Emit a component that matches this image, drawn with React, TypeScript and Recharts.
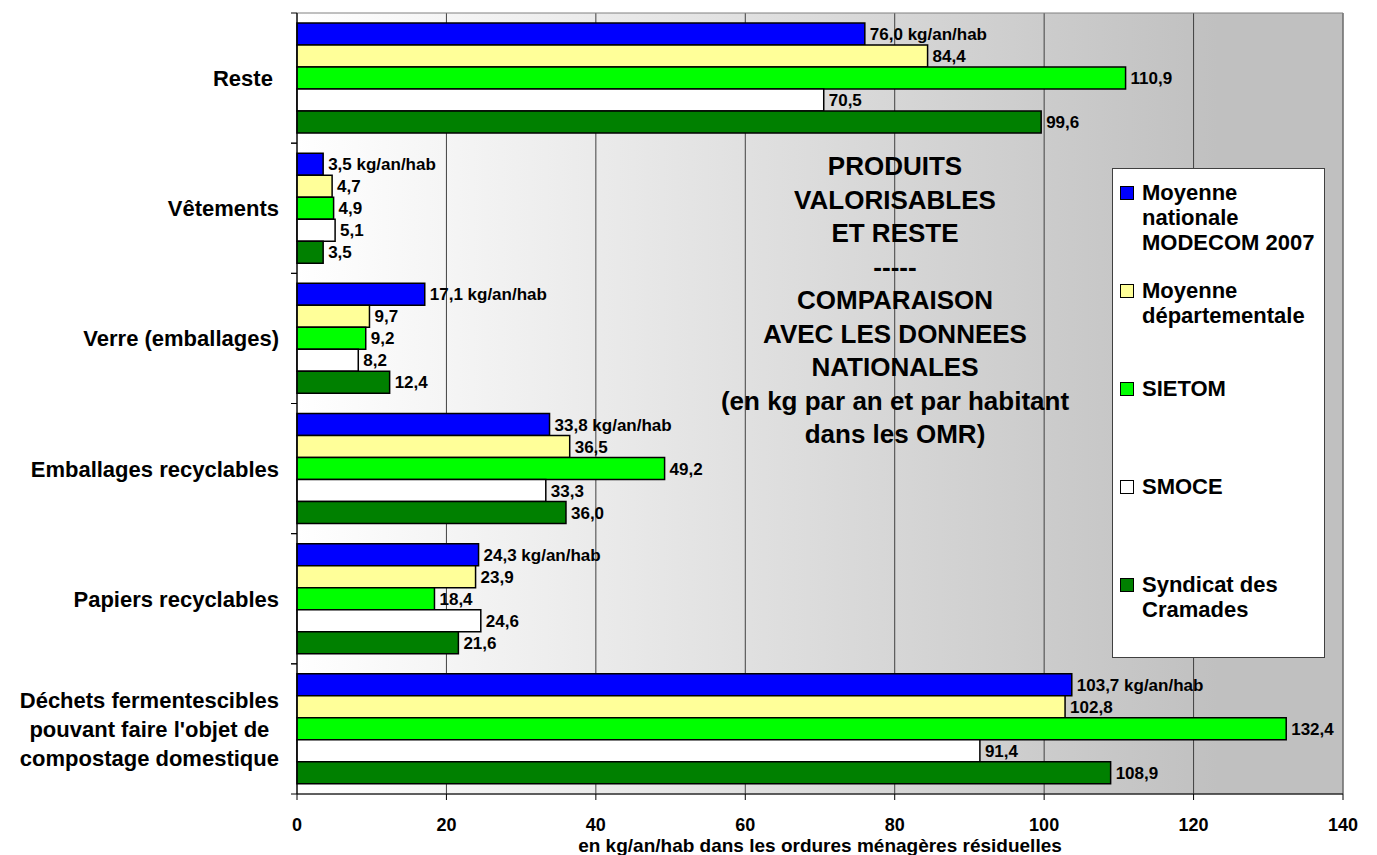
import React from 'react';
import {
  BarChart,
  Bar,
  XAxis,
  YAxis,
  CartesianGrid,
  LabelList,
  Legend,
  Label,
  ReferenceArea,
} from 'recharts';

// ---------- data ----------
const categories = [
  'Reste ',
  'Vêtements',
  'Verre (emballages)',
  'Emballages recyclables',
  'Papiers recyclables',
  "Déchets fermentescibles\npouvant faire l'objet de\ncompostage domestique",
];
const nationalValues = [76.0, 3.5, 17.1, 33.8, 24.3, 103.7];
const deptValues = [84.4, 4.7, 9.7, 36.5, 23.9, 102.8];
const sietomValues = [110.9, 4.9, 9.2, 49.2, 18.4, 132.4];
const smoceValues = [70.5, 5.1, 8.2, 33.3, 24.6, 91.4];
const cramadesValues = [99.6, 3.5, 12.4, 36.0, 21.6, 108.9];

const seriesKeys = ['national', 'dept', 'sietom', 'smoce', 'cramades'];
const seriesNames = [
  'Moyenne\nnationale\nMODECOM 2007',
  'Moyenne\ndépartementale',
  'SIETOM',
  'SMOCE',
  'Syndicat des\nCramades',
];
const seriesColors = ['#0000FF', '#FFFF99', '#00FF00', '#FFFFFF', '#008000'];
const seriesValues = [nationalValues, deptValues, sietomValues, smoceValues, cramadesValues];

const xTicks = [0, 20, 40, 60, 80, 100, 120, 140];
const xAxisTitle = 'en kg/an/hab dans les ordures ménagères résiduelles';
const titleLines = [
  'PRODUITS',
  'VALORISABLES',
  'ET RESTE',
  '-----',
  'COMPARAISON',
  'AVEC LES DONNEES',
  'NATIONALES',
  '(en kg par an et par habitant',
  'dans les OMR)',
];
const firstSeriesUnit = ' kg/an/hab';

const tableData = categories.map((name, i) => {
  const row: Record<string, any> = { name };
  seriesKeys.forEach((k, s) => {
    row[k] = seriesValues[s][i];
  });
  return row;
});

// ---------- styling ----------
const FONT = '"Liberation Sans", Arial, Helvetica, sans-serif';
const Y_TICK_SIZE = 6;
const Y_TICK_MARGIN = 12;
const CAT_FONT_SIZE = 22;

let measureCtx: CanvasRenderingContext2D | null = null;
function measureText(text: string, font: string): number {
  if (!measureCtx) {
    const c = document.createElement('canvas');
    measureCtx = c.getContext('2d');
  }
  if (!measureCtx) return text.length * 12;
  measureCtx.font = font;
  return measureCtx.measureText(text).width;
}

function CategoryTick(props: any) {
  const { x, y, payload } = props;
  const half = payload && typeof payload.offset === 'number' && payload.offset > 0 ? payload.offset : 65;
  const axisX = x + Y_TICK_SIZE + Y_TICK_MARGIN;
  const lines = String(payload.value).split('\n');
  const lh = 29;
  const font = `bold ${CAT_FONT_SIZE}px "Liberation Sans"`;
  let anchor: 'end' | 'middle' = 'end';
  let tx = x;
  if (lines.length > 1) {
    const w = Math.max(...lines.map((l) => measureText(l, font)));
    anchor = 'middle';
    tx = x - w / 2;
  }
  return (
    <g>
      <line x1={axisX - Y_TICK_SIZE} x2={axisX} y1={y - half} y2={y - half} stroke="#000" strokeWidth={1} />
      <line x1={axisX - Y_TICK_SIZE} x2={axisX} y1={y + half} y2={y + half} stroke="#000" strokeWidth={1} />
      <text
        x={tx}
        y={y}
        textAnchor={anchor}
        fontFamily={FONT}
        fontWeight="bold"
        fontSize={CAT_FONT_SIZE}
        fill="#000"
        xmlSpace="preserve"
        style={{ whiteSpace: 'pre' }}
      >
        {lines.map((l, i) => (
          <tspan key={i} x={tx} y={y + (i - (lines.length - 1) / 2) * lh} dy="0.36em">
            {l}
          </tspan>
        ))}
      </text>
    </g>
  );
}

function LegendContent(props: any) {
  const raw = (props.payload || []) as any[];
  const payload = [...raw].sort(
    (a, b) => seriesKeys.indexOf(String(a.dataKey)) - seriesKeys.indexOf(String(b.dataKey))
  );
  return (
    <div
      style={{
        width: 213,
        height: 490,
        boxSizing: 'border-box',
        border: '1px solid #404040',
        background: '#FFFFFF',
        fontFamily: FONT,
        fontWeight: 'bold',
        fontSize: 22,
        color: '#000',
      }}
    >
      {payload.map((entry: any, i: number) => (
        <div
          key={i}
          style={{
            height: 98,
            boxSizing: 'border-box',
            paddingTop: 11,
            paddingLeft: 7,
            display: 'flex',
            alignItems: 'flex-start',
          }}
        >
          <div
            style={{
              width: 14,
              height: 14,
              boxSizing: 'border-box',
              border: '1px solid #000',
              background: entry.color,
              marginTop: 6,
              marginRight: 8,
              flex: '0 0 auto',
            }}
          />
          <div style={{ whiteSpace: 'pre-line', lineHeight: '25px' }}>{entry.value}</div>
        </div>
      ))}
    </div>
  );
}

const fmt = (v: number) => v.toFixed(1).replace('.', ',');

export default function App() {
  return (
    <div style={{ position: 'absolute', left: 0, top: 0, width: 1377, height: 855, background: '#fff' }}>
      <BarChart
        width={1377}
        height={855}
        data={tableData}
        layout="vertical"
        margin={{ top: 13, right: 34, bottom: 0, left: 0 }}
        barCategoryGap={10}
        barGap={0}
      >
        <defs>
          <linearGradient id="plotBg" x1="0" y1="0" x2="1" y2="0">
            <stop offset="0%" stopColor="#FFFFFF" />
            <stop offset="88%" stopColor="#C0C0C0" />
            <stop offset="100%" stopColor="#C0C0C0" />
          </linearGradient>
        </defs>
        <CartesianGrid horizontal={false} stroke="#404040" strokeWidth={1} fill="url(#plotBg)" fillOpacity={1} />
        <ReferenceArea x1={0} x2={140} fill="none" stroke="#808080" strokeWidth={1} ifOverflow="visible" />
        <XAxis
          type="number"
          domain={[0, 140]}
          ticks={xTicks}
          height={61}
          tickSize={6}
          tickMargin={18}
          axisLine={{ stroke: '#000', strokeWidth: 1 }}
          tickLine={{ stroke: '#000', strokeWidth: 1 }}
          tick={{ fontFamily: FONT, fontWeight: 'bold', fontSize: 18, fill: '#000' }}
          interval={0}
        >
          <Label
            value={xAxisTitle}
            position="insideBottom"
            offset={3}
            style={{ fontFamily: FONT, fontWeight: 'bold', fontSize: 19, fill: '#000' }}
          />
        </XAxis>
        <YAxis
          type="category"
          dataKey="name"
          width={297}
          tickSize={Y_TICK_SIZE}
          tickMargin={Y_TICK_MARGIN}
          axisLine={{ stroke: '#000', strokeWidth: 1 }}
          tickLine={false}
          tick={<CategoryTick />}
          interval={0}
        />
        <Legend
          layout="vertical"
          align="center"
          verticalAlign="middle"
          content={<LegendContent />}
          wrapperStyle={{ left: 1112, top: 168, width: 213, height: 490 }}
        />
        {seriesKeys.map((k, s) => (
          <Bar
            key={k}
            dataKey={k}
            name={seriesNames[s]}
            fill={seriesColors[s]}
            stroke="#000"
            strokeWidth={1.5}
            isAnimationActive={false}
          >
            <LabelList
              dataKey={k}
              position="right"
              offset={5}
              formatter={(v: any) => fmt(Number(v)) + (s === 0 ? firstSeriesUnit : '')}
              style={{ fontFamily: FONT, fontWeight: 'bold', fontSize: 17, fill: '#000' }}
            />
          </Bar>
        ))}
      </BarChart>
      <div
        style={{
          position: 'absolute',
          left: 695,
          top: 150,
          width: 400,
          textAlign: 'center',
          fontFamily: FONT,
          fontWeight: 'bold',
          fontSize: 26,
          lineHeight: '33.5px',
          color: '#000',
          pointerEvents: 'none',
        }}
      >
        {titleLines.map((l, i) => (
          <div key={i}>{l}</div>
        ))}
      </div>
    </div>
  );
}
